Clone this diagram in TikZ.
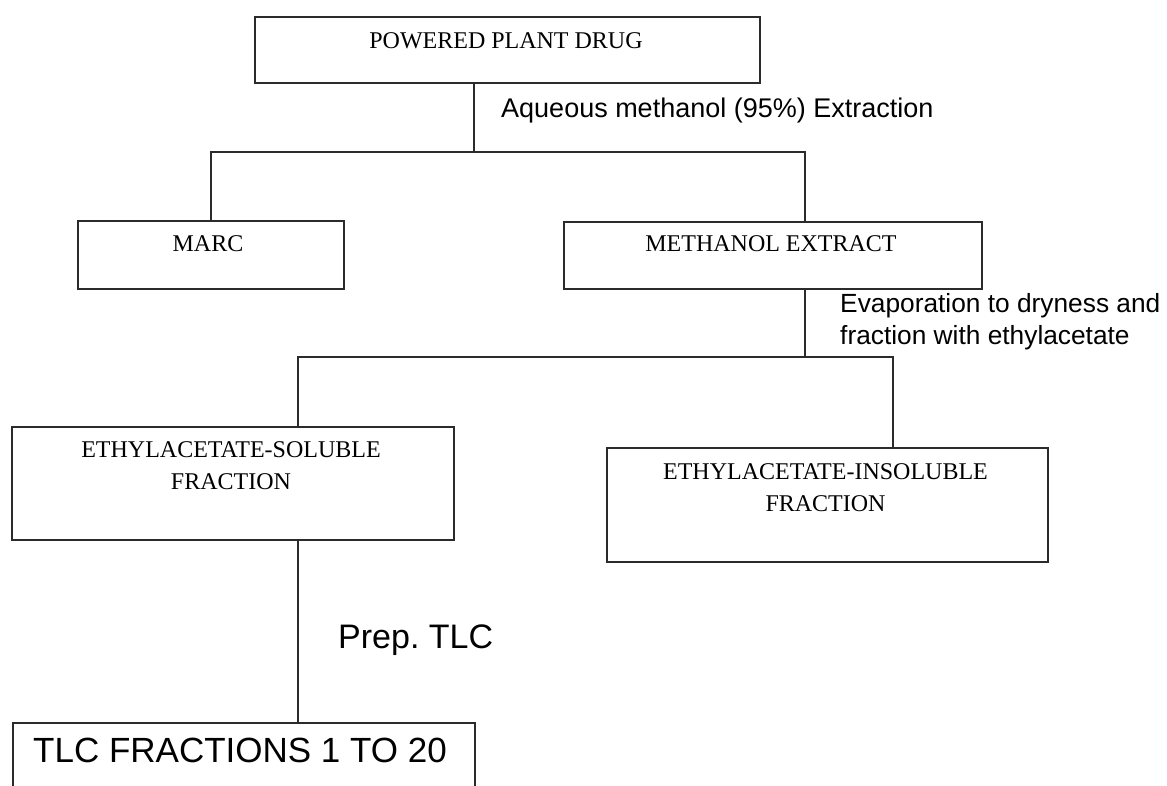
\documentclass[tikz,border=0pt]{standalone}
\usepackage{fontspec}
\setmainfont{Liberation Serif}
\newfontfamily\labelfont{Liberation Sans}
\definecolor{linec}{HTML}{2B2B2B}
\frenchspacing
\tikzset{
  stagebox/.style={draw=linec, line width=2pt, inner sep=0pt, anchor=north west},
  conn/.style={draw=linec, line width=2pt},
  boxtext/.style={inner sep=0pt, align=center, font=\fontsize{24}{32}\selectfont},
  steplabel/.style={inner sep=0pt, align=left, font=\labelfont\fontsize{27}{32}\selectfont},
}
\begin{document}
\begin{tikzpicture}[x=1pt,y=-1pt]
\useasboundingbox (0,0) rectangle (1167,786);
\fill[white] (0,0) rectangle (1167,786);
\clip (0,0) rectangle (1167,786);

% boxes
\node[stagebox, minimum width=505pt, minimum height=66pt] (drug) at (254,16) {};
\node[stagebox, minimum width=266pt, minimum height=68pt] (marc) at (77,220) {};
\node[stagebox, minimum width=418pt, minimum height=67pt] (meth) at (563,221) {};
\node[stagebox, minimum width=442pt, minimum height=113pt] (sol) at (11,426) {};
\node[stagebox, minimum width=441pt, minimum height=114pt] (insol) at (606,447) {};
\node[stagebox, minimum width=462pt, minimum height=110pt] (tlc) at (12,722) {};

% box texts
\node[boxtext] (tdrug) at (506,40.5) {POWERED PLANT DRUG};
\node[boxtext] (tmarc) at (208,244) {MARC};
\node[boxtext] (tmeth) at (771,244) {METHANOL EXTRACT};
\node[boxtext] (tsol) at (231,466) {ETHYLACETATE-SOLUBLE\\FRACTION};
\node[boxtext] (tinsol) at (825.5,487.5) {ETHYLACETATE-INSOLUBLE\\FRACTION};
\node[inner sep=0pt, font=\labelfont\fontsize{35}{40}\selectfont] (ttlc) at (240,750) {TLC FRACTIONS 1 TO 20};

% step labels
\node[steplabel, anchor=base west] (laq) at (501,118) {Aqueous methanol (95\%) Extraction};
\node[steplabel, anchor=north west, font=\labelfont\fontsize{26.3}{32}\selectfont] (levap) at (840,293) {Evaporation to dryness and\\fraction with ethylacetate};
\node[inner sep=0pt, anchor=base west, font=\labelfont\fontsize{34}{40}\selectfont] (lprep) at (338,648) {Prep. TLC};

% junction coordinates
\coordinate (j1) at (474,152);
\coordinate (m1) at (805,152);
\coordinate (j2) at (805,357);
\coordinate (s1) at (298,357);
\coordinate (i1) at (893,357);

% connectors
\draw[conn] (drug.south -| j1) -- (j1);
\draw[conn] (marc.north) |- (m1) -- (m1 |- meth.north);
\draw[conn] (meth.south -| j2) -- (j2);
\draw[conn] (sol.north -| s1) -- (s1) -- (i1) -- (insol.north -| i1);
\draw[conn] (sol.south -| s1) -- (tlc.north -| s1);
\end{tikzpicture}
\end{document}
